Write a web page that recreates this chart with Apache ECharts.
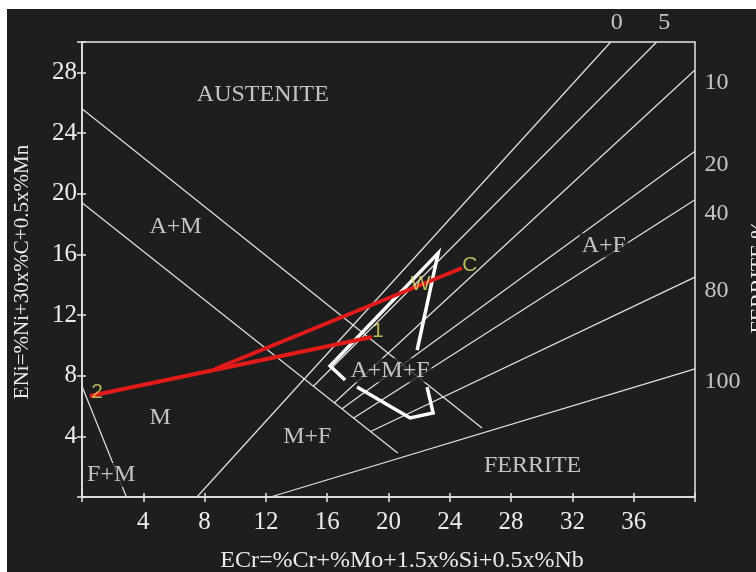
<!DOCTYPE html>
<html>
<head>
<meta charset="utf-8">
<script src="https://cdn.jsdelivr.net/npm/echarts@6/dist/echarts.min.js"></script>
<style>
html,body{margin:0;padding:0;background:#fff;}
#chart{position:absolute;left:7px;top:9px;width:749px;height:563px;}
</style>
</head>
<body>
<div id="chart"></div>
<script>
// boundary lines, points as [ECr, ENi]
var lineA_AM = [[0, 25.6], [26.1, 4.55]];
var lineAM_M = [[0, 19.4], [20.6, 2.9]];
var lineM_FM = [[0, 7.3], [2.9, 0]];

// ferrite % lines
var fe0 = [[7.5, 0], [34.5, 30]];
var fe5 = [[15.1, 7.3], [37.5, 30]];
var fe10 = [[16.45, 6.2], [40, 28.15]];
var fe20 = [[16.95, 5.8], [40, 22.8]];
var fe40 = [[17.7, 5.2], [40, 19.6]];
var fe80 = [[18.8, 4.3], [40, 14.5]];
var fe100 = [[12.3, 0], [40, 8.45]];
var ferriteNames = ['0', '5', '10', '20', '40', '80', '100'];
var ferriteLabelPos = [[34.9, 31.3], [38.0, 31.3], [41.4, 27.3], [41.4, 21.9], [41.4, 18.7], [41.4, 13.6], [41.8, 7.6]];

// weld zone outline (white, thick)
var outlineUpper = [[21.87, 9.69], [23.24, 16.08], [16.19, 8.64], [17.17, 7.71]];
var outlineLower = [[22.52, 7.25], [22.91, 5.54], [21.41, 5.21], [17.95, 7.25]];

// dilution lines (red)
var line2to1 = [[0.52, 6.66], [18.92, 10.55]];
var linePtoC = [[8.68, 8.44], [24.8, 15.1]];

// point names
var pointNames = ['2', '1', 'W', 'C'];
var pointPos = [[0.98, 6.9], [19.3, 10.9], [22.1, 14.0], [25.3, 15.3]];

// region names
var regionNames = ['AUSTENITE', 'A+M', 'M', 'F+M', 'M+F', 'A+M+F', 'A+F', 'FERRITE'];
var regionPos = [[11.8, 26.5], [6.1, 17.85], [5.1, 5.2], [1.9, 1.45], [14.7, 3.95], [20.1, 8.35], [34.05, 16.6], [29.4, 2.05]];

var bg = '#1e1e1e';
var fg = '#ececec';
var serif = 'Liberation Serif';

chart = echarts.init(document.getElementById('chart'));

function thin(d){
    return {
        type: 'line', data: d, symbol: 'none', silent: true, z: 2,
        lineStyle: {color: '#e2e2e2', width: 1.2}
    };
}
function thick(d, color, w){
    return {
        type: 'line', data: d, symbol: 'none', silent: true, z: 4,
        lineStyle: {color: color, width: w, join: 'miter'}
    };
}
function labels(pos, names, font, size, color, withBg){
    return {
        type: 'scatter', clip: false, silent: true, z: 10,
        symbolSize: 1, itemStyle: {color: 'rgba(0,0,0,0)'},
        data: pos.map(function(p, i){ return {value: p, name: names[i]}; }),
        label: {
            show: true, position: 'inside', formatter: '{b}',
            color: color, fontFamily: font, fontSize: size,
            backgroundColor: withBg ? bg : 'transparent', padding: [0, 2]
        }
    };
}

series = [
    thin(lineA_AM), thin(lineAM_M), thin(lineM_FM),
    thin(fe0), thin(fe5), thin(fe10), thin(fe20), thin(fe40), thin(fe80), thin(fe100),
    thick(outlineUpper, '#ffffff', 3.5),
    thick(outlineLower, '#ffffff', 3.5),
    thick(line2to1, '#e31a1a', 4),
    thick(linePtoC, '#e31a1a', 4),
    labels(regionPos, regionNames, serif, 24, fg, true),
    labels(ferriteLabelPos, ferriteNames, serif, 24, fg, false),
    labels(pointPos, pointNames, 'Liberation Sans', 21, '#e0da66', false)
];

option = {
    backgroundColor: bg,
    animation: false,
    grid: {
        left: 75, top: 33, right: 61, bottom: 75,
        show: true, borderColor: '#e6e6e6', borderWidth: 1.5,
        containLabel: false, outerBoundsMode: 'none'
    },
    xAxis: [
        {
            type: 'value', min: 0, max: 40, interval: 4,
            axisLine: {lineStyle: {color: '#e6e6e6', width: 1.5}},
            axisTick: {length: 5, lineStyle: {color: '#e6e6e6', width: 1.5}},
            splitLine: {show: false},
            axisLabel: {
                color: fg, fontFamily: serif, fontSize: 25, margin: 13,
                formatter: function(v){ return (v > 0 && v < 40) ? v : ''; }
            }
        },
        {
            type: 'value', min: 0, max: 40, interval: 4, position: 'bottom',
            axisLine: {show: false},
            axisTick: {inside: true, length: 4, lineStyle: {color: '#e6e6e6', width: 1.5}},
            axisLabel: {show: false}, splitLine: {show: false}
        }
    ],
    yAxis: [
        {
            type: 'value', min: 0, max: 30, interval: 4,
            axisLine: {lineStyle: {color: '#e6e6e6', width: 1.5}},
            axisTick: {length: 5, lineStyle: {color: '#e6e6e6', width: 1.5}},
            splitLine: {show: false},
            axisLabel: {
                color: fg, fontFamily: serif, fontSize: 25, margin: 5,
                formatter: function(v){ return (v > 0 && v <= 28 && v % 4 === 0) ? v : ''; }
            }
        },
        {
            type: 'value', min: 0, max: 30, interval: 4, position: 'left',
            axisLine: {show: false},
            axisTick: {inside: true, length: 4, lineStyle: {color: '#e6e6e6', width: 1.5}},
            axisLabel: {show: false}, splitLine: {show: false}
        }
    ],
    graphic: [
        {
            type: 'text', x: 15, y: 263, rotation: Math.PI / 2,
            style: {text: 'ENi=%Ni+30x%C+0.5x%Mn', fill: fg, font: '21px "Liberation Serif"', textAlign: 'center', textVerticalAlign: 'middle'}
        },
        {
            type: 'text', x: 395, y: 552,
            style: {text: 'ECr=%Cr+%Mo+1.5x%Si+0.5x%Nb', fill: fg, font: '24px "Liberation Serif"', textAlign: 'center', textVerticalAlign: 'middle'}
        },
        {
            type: 'text', x: 752, y: 268, rotation: Math.PI / 2,
            style: {text: 'FERRITE %', fill: fg, font: '22px "Liberation Serif"', textAlign: 'center', textVerticalAlign: 'middle'}
        }
    ],
    series: series
};
chart.setOption(option);
</script>
</body>
</html>
